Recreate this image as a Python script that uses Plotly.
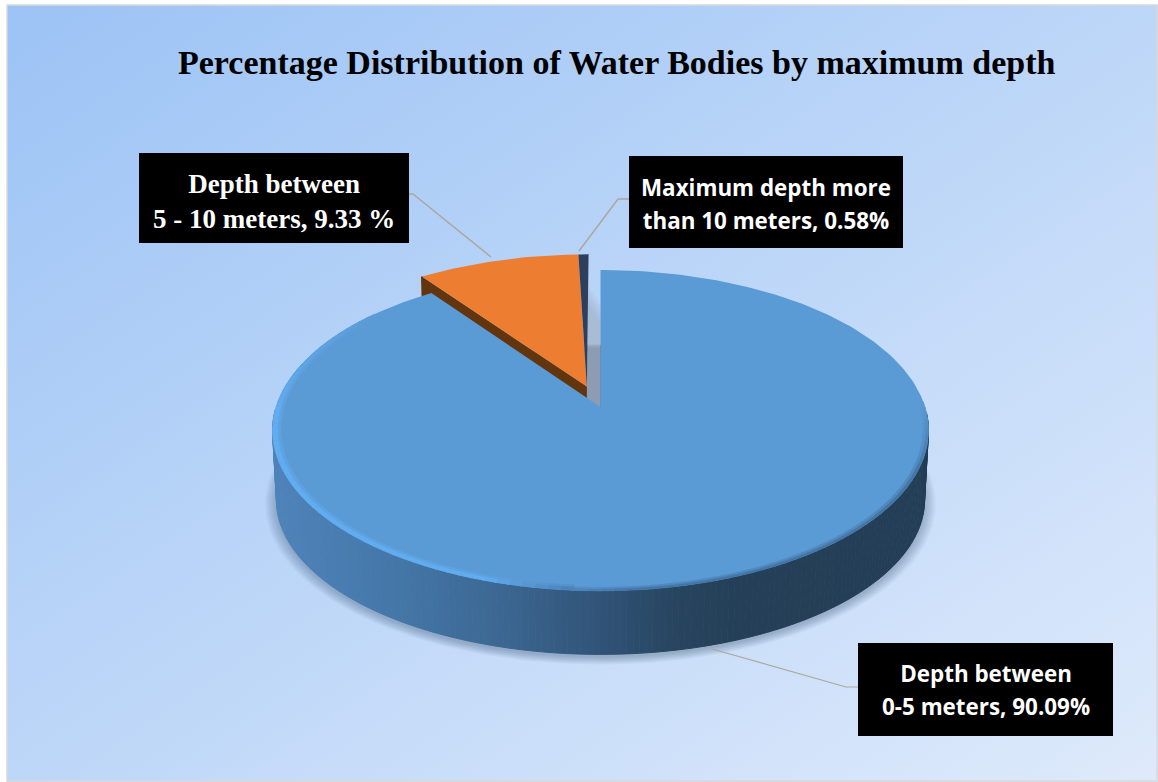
import base64
import numpy as np
import plotly.graph_objects as go

# ---------- data ----------
categories = ["Depth between 0-5 meters", "Depth between 5 - 10 meters", "Maximum depth more than 10 meters"]
values = [90.09, 9.33, 0.58]
title_text = "Percentage Distribution of Water Bodies by maximum depth"
label_blue = ["Depth between", "0-5 meters, 90.09%"]
label_orange = ["Depth between", "5 - 10 meters, 9.33 %"]
label_navy = ["Maximum depth more", "than 10 meters, 0.58%"]

# ---------- pie projection (perspective disc on pixel-scaled axes) ----------
W, H = 1158, 782
CX, CY, R, KY, PERSP, DROP, NARROW_X, NARROW_Y = 600.5, 407, 324.5, 157, 0.146, 70, 0.012, 0.035
EXPLODE = 0.14


def project(theta, r=1.0, h=0.0, off=(0.0, 0.0)):
    """theta: degrees clockwise from north; r: radial share; h: 0 top face, 1 bottom face."""
    t = np.radians(theta)
    u = r * np.sin(t) + off[0]
    v = r * np.cos(t) + off[1]
    s = 1.0 / (1.0 + PERSP * v)
    x = CX + R * u * s * (1 - NARROW_X * h)
    y = CY - KY * v * s * (1 - NARROW_Y * h) + DROP * h
    return x, y


def poly(xs, ys, fill, line=None, lw=0, opacity=1.0):
    return go.Scatter(x=list(xs), y=list(ys), mode="lines", fill="toself", fillcolor=fill,
                      line=dict(color=line or fill, width=lw), opacity=opacity,
                      hoverinfo="skip", showlegend=False)


def mix(a, b, t):
    return tuple(a[i] + (b[i] - a[i]) * t for i in range(3))


def rgb(c):
    return "rgb(%d,%d,%d)" % tuple(int(round(v)) for v in c)


BLUE = (91, 155, 213)
ORANGE = "#ED7D31"
NAVY = "#2C3F5C"
BROWN = "#63350F"
HILITE = (98, 172, 240)
RIM_R = (60, 104, 148)

# cumulative angles from the data
total = sum(values)
a_blue = values[0] / total * 360
a_orange = a_blue + values[1] / total * 360
a_end = a_orange + values[2] / total * 360

group_mid = np.radians((a_blue + a_end) / 2)
OFF = (EXPLODE * np.sin(group_mid), EXPLODE * np.cos(group_mid))

traces = []

# soft shadow under the disc
th_all = np.linspace(0, 360, 241)
for i in range(9):
    rr = 1.034 - i * 0.0042
    x, y = project(th_all, rr, 1.0)
    traces.append(poly(x, y + 3, "rgb(30,50,90)", opacity=0.035))

# shadow strip in the gap between blue and the exploded slices
for f in np.linspace(0.0, 1.0, 10):
    r_end = 0.74 - f * 0.16
    xa, ya = project(0, 0.0)
    xb, yb = project(0, r_end)
    xc, yc = project(a_end, r_end, 0, OFF)
    xd, yd = project(a_end, 0.0, 0.75, OFF)
    traces.append(poly([xa, xb, xc, xd], [ya, yb, yc, yd], "rgb(140,140,150)", opacity=0.035))

# exploded slices: cut wall, then faces
rs = np.linspace(0, 1, 2)
x1, y1 = project(a_blue, rs, 0, OFF)
x2, y2 = project(a_blue, rs[::-1], 1, OFF)
traces.append(poly(np.r_[x1, x2], np.r_[y1, y2], BROWN))
xr, yr = project(a_blue, 1.0, np.array([0.0, 1.0]), OFF)
traces.append(go.Scatter(x=xr, y=yr, mode="lines", line=dict(color=BROWN, width=2),
                         hoverinfo="skip", showlegend=False))
xe, ye = project(a_end, 0.0, np.array([0.0, 1.0]), OFF)
xe2, ye2 = project(a_blue, 0.0, np.array([1.0, 0.0]), OFF)
traces.append(poly(np.r_[xe, xe2], np.r_[ye, ye2], BROWN))

th = np.linspace(a_blue, a_orange, 30)
x, y = project(th, 1.0, 0, OFF)
ax, ay = project(0, 0.0, 0, OFF)
traces.append(poly(np.r_[ax, x, ax], np.r_[ay, y, ay], ORANGE))
th = np.linspace(a_orange, a_end, 5)
x, y = project(th, 1.0, 0, OFF)
traces.append(poly(np.r_[ax, x, ax], np.r_[ay, y, ay], NAVY))

# outer wall, shaded by horizontal position
wall_x = [270, 400, 500, 590, 680, 740, 930]
wall_rgb = [(79, 132, 187), (68, 118, 167), (60, 103, 146), (50, 85, 122), (39, 68, 95), (36, 63, 87), (35, 62, 85)]
wall_theta = np.arange(92, 270, 1.0)
for t0, t1 in zip(wall_theta[:-1], wall_theta[1:]):
    xa, ya = project(np.array([t0, t1]), 1.0, 0)
    xb, yb = project(np.array([t1, t0]), 1.0, 1)
    xm = float(np.mean(np.r_[xa, xb]))
    col = rgb(tuple(np.interp(xm, wall_x, [c[i] for c in wall_rgb]) for i in range(3)))
    traces.append(poly(np.r_[xa, xb], np.r_[ya, yb], col, lw=1))

# blue top face
th = np.linspace(0, a_blue, 300)
x, y = project(th, 1.0, 0)
bx, by = project(0, 0.0, 0)
traces.append(poly(np.r_[bx, x, bx], np.r_[by, y, by], rgb(BLUE)))

# faint dark line on the cut edge of the blue face
xl, yl = project(0, np.array([0.0, 0.42]), 0)
traces.append(go.Scatter(x=xl, y=yl, mode="lines", line=dict(color="rgb(110,135,175)", width=0.8),
                         hoverinfo="skip", showlegend=False))

# bevel on the rim of the blue face, as thin bands inside the face
rim_stops = [88, 112, 176, 198, 268, 312]
rim_cols = [BLUE, RIM_R, RIM_R, HILITE, HILITE, BLUE]
rim_th = np.arange(88, 312, 2.0)


def band(t0, t1, r0, r1, col):
    ts = np.array([t0, t1 + 0.3])
    xa, ya = project(ts, r1, 0)
    xb, yb = project(ts[::-1], r0, 0)
    return poly(np.r_[xa, xb], np.r_[ya, yb], col, lw=0.5)


for t0, t1 in zip(rim_th[:-1], rim_th[1:]):
    m = (t0 + t1) / 2
    c = tuple(np.interp(m, rim_stops, [k[i] for k in rim_cols]) for i in range(3))
    outer = 0.9995
    if m < 185:  # right side: narrow blurred edge
        traces.append(band(t0, t1, 0.983, outer, rgb(mix(BLUE, c, 0.35))))
        traces.append(band(t0, t1, 0.992, outer, rgb(mix(BLUE, c, 0.75))))
    else:  # left side: bright bevel, brightest towards the edge
        traces.append(band(t0, t1, 0.975, outer, rgb(mix(BLUE, c, 0.45))))
        traces.append(band(t0, t1, 0.985, outer, rgb(c)))

# leader lines
LEADER = "#ACA79F"
for lx, ly, lw in [([409, 413, 491], [194, 194, 257], 1.5),
                   ([629, 618, 579], [199, 199, 251], 1.5),
                   ([858, 846, 712], [687, 687, 649], 1.2)]:
    traces.append(go.Scatter(x=lx, y=ly, mode="lines", line=dict(color=LEADER, width=lw),
                             hoverinfo="skip", showlegend=False))

fig = go.Figure(traces)

# page background gradient
svg = ('<svg xmlns="http://www.w3.org/2000/svg" width="1151" height="777" preserveAspectRatio="none">'
       '<defs><linearGradient id="g" x1="0" y1="0" x2="1" y2="1">'
       '<stop offset="0" stop-color="#9CC3F5"/><stop offset="1" stop-color="#DEEAFB"/>'
       '</linearGradient></defs><rect width="1151" height="777" fill="url(#g)"/></svg>')
src = "data:image/svg+xml;base64," + base64.b64encode(svg.encode()).decode()


def box_shape(x0, y0, x1, y1):
    return dict(type="rect", xref="x", yref="y", x0=x0, y0=y0, x1=x1, y1=y1,
                fillcolor="#000000", line=dict(width=0), layer="above")


def box_text(xc, yc, lines, family, size, line_size):
    inner = "<br>".join('<span style="font-size:%gpx">%s</span>' % (size, s) for s in lines)
    return dict(x=xc, y=yc, xref="x", yref="y", xanchor="center", yanchor="middle",
                text=inner, showarrow=False, align="center",
                font=dict(family=family, size=line_size, color="#FFFFFF", weight="bold"))


SERIF = "Liberation Serif"
SANS = "Open Sans"
fig.update_layout(
    width=W, height=H, margin=dict(l=0, r=0, t=0, b=0),
    paper_bgcolor="#FFFFFF", plot_bgcolor="rgba(0,0,0,0)", showlegend=False,
    xaxis=dict(range=[0, W], visible=False, fixedrange=True),
    yaxis=dict(range=[H, 0], visible=False, fixedrange=True),
    images=[dict(source=src, xref="x", yref="y", x=7, y=5, sizex=W - 7, sizey=H - 5,
                 sizing="stretch", xanchor="left", yanchor="top", layer="below")],
    shapes=[dict(type="rect", xref="x", yref="y", x0=7, y0=5, x1=W - 1, y1=H - 1,
                 line=dict(color="#D9D9D9", width=1.5), layer="above"),
            box_shape(139, 153, 409, 243), box_shape(629, 156, 903, 248), box_shape(858, 643, 1113, 736)],
    annotations=[
        dict(x=616.5, y=62, xref="x", yref="y", xanchor="center", yanchor="middle", text=title_text,
             showarrow=False, font=dict(family=SERIF, size=34, color="#000000", weight="bold")),
        box_text(274, 201, label_orange, SERIF, 27, 27),
        box_text(766, 204, label_navy, SANS, 22.4, 25),
        box_text(986, 689.5, label_blue, SANS, 22.4, 25),
    ],
)

fig.write_html("out.html", config={"displayModeBar": False},
               post_script="document.body.style.margin='0';document.body.style.overflow='hidden';")
